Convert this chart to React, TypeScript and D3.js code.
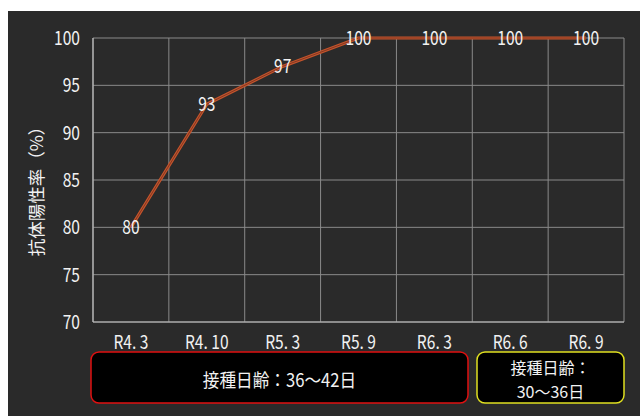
import React from "react";
import * as d3 from "d3";

const categories = ["R4.3", "R4.10", "R5.3", "R5.9", "R6.3", "R6.6", "R6.9"];
const values = [80, 93, 97, 100, 100, 100, 100];
const yTicks = [70, 75, 80, 85, 90, 95, 100];
const yTitle = "抗体陽性率（%）";
const boxRedText = "接種日齢：36～42日";
const boxYellowLines = ["接種日齢：", "30～36日"];

const W = 640;
const H = 416;
const plot = { left: 93, right: 624, top: 38, bottom: 322 };
const FONT = "'Noto Sans CJK JP', 'Noto Sans', sans-serif";

function T({ x, y, size, anchor = "middle", sx = 0.85, children, fill = "#f2f2f2" }: any) {
  return (
    <g transform={`translate(${x},${y}) scale(${sx},1)`}>
      <text x={0} y={0} fontSize={size} textAnchor={anchor} fill={fill} fontFamily={FONT}>
        {children}
      </text>
    </g>
  );
}

export default function App() {
  const x = d3.scaleBand<string>().domain(categories).range([plot.left, plot.right]);
  const y = d3.scaleLinear().domain([70, 100]).range([plot.bottom, plot.top]);
  const cx = (c: string) => (x(c) as number) + x.bandwidth() / 2;
  const line = d3
    .line<number>()
    .x((_, i) => cx(categories[i]))
    .y((v) => y(v));
  const path = line(values) as string;
  const edges = [plot.left, ...categories.map((c) => (x(c) as number) + x.bandwidth())];

  return (
    <svg width={W} height={H} style={{ position: "absolute", left: 0, top: 0, display: "block" }}>
      <rect x={0} y={0} width={W} height={H} fill="#ffffff" />
      <rect x={8} y={11} width={W - 8} height={H - 11} fill="#2a2a2a" />
      {/* grid */}
      {yTicks.map((t) => (
        <line key={"h" + t} x1={plot.left} x2={plot.right} y1={y(t)} y2={y(t)} stroke="#8a8a8a" strokeWidth={1} />
      ))}
      {edges.map((e, i) => (
        <line key={"v" + i} x1={e} x2={e} y1={plot.top} y2={plot.bottom} stroke="#8a8a8a" strokeWidth={1} />
      ))}
      <line x1={plot.left} x2={plot.left} y1={plot.top} y2={plot.bottom} stroke="#bdbdbd" strokeWidth={1.2} />
      <line x1={plot.left} x2={plot.right} y1={plot.bottom} y2={plot.bottom} stroke="#bdbdbd" strokeWidth={1.2} />
      {/* y tick labels */}
      {yTicks.map((t) => (
        <T key={"yt" + t} x={80} y={y(t) + 7} size={19.5} anchor="end" sx={0.8}>
          {t}
        </T>
      ))}
      {/* y title */}
      <g transform={`translate(43,${187}) rotate(-90)`}>
        <text x={0} y={0} fontSize={17.5} textAnchor="middle" fill="#f2f2f2" fontFamily={FONT}>
          {yTitle}
        </text>
      </g>
      {/* x labels */}
      {categories.map((c) => (
        <T key={"xl" + c} x={cx(c)} y={348.5} size={19} sx={0.82}>
          {c.replace(".", ". ")}
        </T>
      ))}
      {/* line */}
      <path d={path} fill="none" stroke="#c4542c" strokeWidth={3.2} strokeLinejoin="round" />
      <path d={path} fill="none" stroke="#7a3420" strokeWidth={0.9} strokeLinejoin="round" />
      {/* data labels */}
      {values.map((v, i) => (
        <T key={"dl" + i} x={cx(categories[i])} y={y(v) + 7} size={19.5} sx={0.8}>
          {v}
        </T>
      ))}
      {/* boxes */}
      <rect x={91} y={352} width={377} height={51} rx={8} fill="#000" stroke="#e01010" strokeWidth={1.5} />
      <T x={279.5} y={386.5} size={18.5} sx={0.9}>
        {boxRedText}
      </T>
      <rect x={477} y={352} width={147} height={51} rx={8} fill="#000" stroke="#e0e020" strokeWidth={1.5} />
      <T x={550.5} y={374} size={16} sx={1}>
        {boxYellowLines[0]}
      </T>
      <T x={550.5} y={398} size={16} sx={1}>
        {boxYellowLines[1]}
      </T>
    </svg>
  );
}
